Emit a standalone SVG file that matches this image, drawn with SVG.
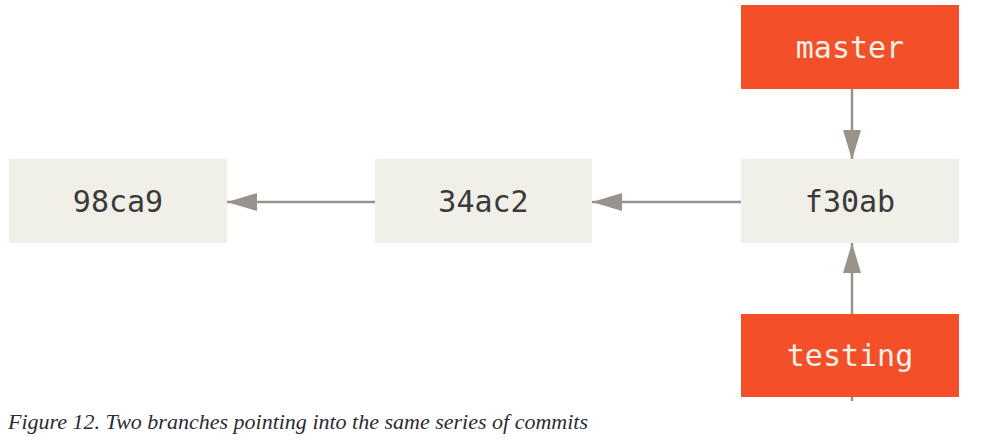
<svg xmlns="http://www.w3.org/2000/svg" width="982" height="443" viewBox="0 0 982 443">
<defs>
<marker id="ah" markerWidth="30" markerHeight="18" refX="30" refY="9" orient="auto" markerUnits="userSpaceOnUse">
<path d="M0,0 L30,9 L0,18 Z" fill="#9a938b"/>
</marker>
<style>
.commit{fill:#f0efe8}
.branch{fill:#f34f29}
.ct{font-family:"DejaVu Sans Mono",monospace;font-size:30px;fill:#3a3a3a;text-anchor:middle}
.bt{font-family:"DejaVu Sans Mono",monospace;font-size:30px;fill:#f0efe8;text-anchor:middle}
.conn{stroke:#9a938b;stroke-width:2.5;fill:none}
.cap{font-family:"Liberation Serif","DejaVu Serif",serif;font-style:italic;font-size:21px;fill:#2b2b33}
</style>
</defs>
<rect width="982" height="443" fill="#fff"/>
<g id="connectors">
<line class="conn" x1="375" y1="202" x2="227" y2="202" marker-end="url(#ah)"/>
<line class="conn" x1="741" y1="202" x2="592" y2="202" marker-end="url(#ah)"/>
<line class="conn" x1="852" y1="89" x2="852" y2="160" marker-end="url(#ah)"/>
<line class="conn" x1="852" y1="314" x2="852" y2="243" marker-end="url(#ah)"/>
<line class="conn" x1="852" y1="397" x2="852" y2="401"/>
</g>
<g id="c98ca9"><rect class="commit" x="9" y="159" width="218" height="84"/><text class="ct" x="118" y="212">98ca9</text></g>
<g id="c34ac2"><rect class="commit" x="375" y="159" width="217" height="84"/><text class="ct" x="483.5" y="212">34ac2</text></g>
<g id="cf30ab"><rect class="commit" x="741" y="159" width="218" height="84"/><text class="ct" x="850" y="212">f30ab</text></g>
<g id="master"><rect class="branch" x="741" y="5" width="218" height="84"/><text class="bt" x="850" y="58">master</text></g>
<g id="testing"><rect class="branch" x="741" y="314" width="218" height="83"/><text class="bt" x="850" y="366">testing</text></g>
<text class="cap" x="8" y="429" textLength="580" lengthAdjust="spacingAndGlyphs">Figure 12. Two branches pointing into the same series of commits</text>
</svg>
